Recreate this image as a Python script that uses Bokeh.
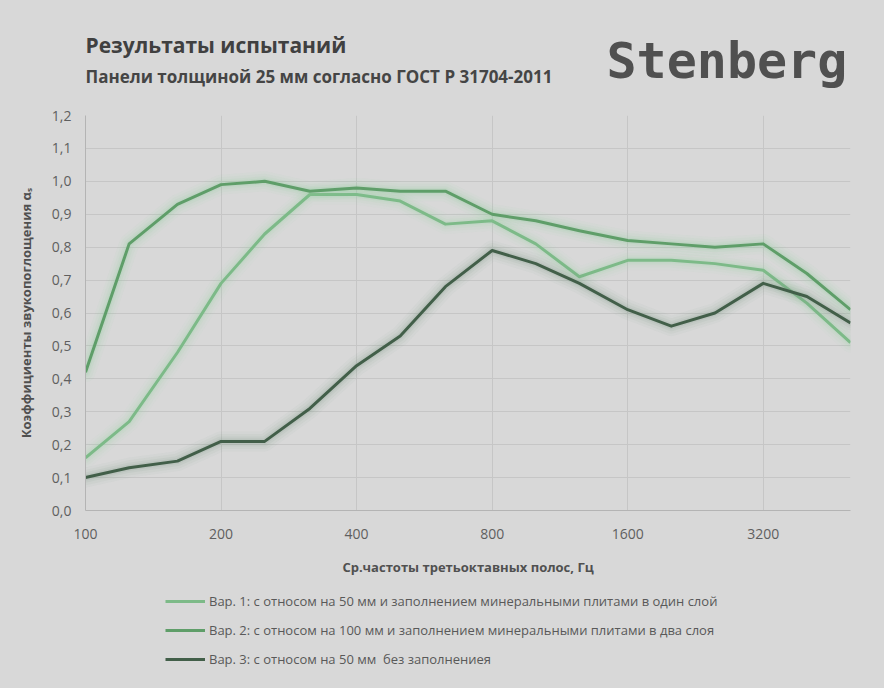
from bokeh.plotting import figure
from bokeh.layouts import column
from bokeh.models import (FixedTicker, Legend, LegendItem, Label, Range1d,
                          ColumnDataSource)
from bokeh.embed import file_html
from bokeh.resources import INLINE

# Third-octave band centre frequencies, Hz
freqs = [100, 125, 160, 200, 250, 315, 400, 500, 630, 800, 1000, 1250,
         1600, 2000, 2500, 3200, 4000, 5000]

# Sound absorption coefficients alpha_s for the three mounting variants
var1 = [0.16, 0.27, 0.48, 0.69, 0.84, 0.96, 0.96, 0.94, 0.87, 0.88, 0.81,
        0.71, 0.76, 0.76, 0.75, 0.73, 0.63, 0.51]
var2 = [0.42, 0.81, 0.93, 0.99, 1.00, 0.97, 0.98, 0.97, 0.97, 0.90, 0.88,
        0.85, 0.82, 0.81, 0.80, 0.81, 0.72, 0.61]
var3 = [0.10, 0.13, 0.15, 0.21, 0.21, 0.31, 0.44, 0.53, 0.68, 0.79, 0.75,
        0.69, 0.61, 0.56, 0.60, 0.69, 0.65, 0.57]

names = [
    "Вар. 1: с относом на 50 мм и заполнением минеральными плитами в один слой",
    "Вар. 2: с относом на 100 мм и заполнением минеральными плитами в два слоя",
    "Вар. 3: с относом на 50 мм  без заполнениея",
]
colors = ["#7dba88", "#5f9e69", "#425f49"]
glow_colors = ["#9fd8a8", "#8fd09a", "#7f9a85"]

x_ticks = [100, 200, 400, 800, 1600, 3200]
y_ticks = [0.0, 0.1, 0.2, 0.3, 0.4, 0.5, 0.6, 0.7, 0.8, 0.9, 1.0, 1.1, 1.2]

BG = "#d8d8d8"
FONT = "Open Sans"
W = 884


def strip(height):
    """Axis-free band used for the heading and the legend."""
    f = figure(width=W, height=height, x_range=Range1d(0, 1),
               y_range=Range1d(0, 1), x_axis_type=None, y_axis_type=None,
               min_border_left=85, min_border_right=30, min_border_top=0,
               min_border_bottom=0, background_fill_color=BG,
               border_fill_color=BG, outline_line_color=None,
               output_backend="svg", toolbar_location=None)
    f.xgrid.visible = False
    f.ygrid.visible = False
    return f


# ---- heading band: title, subtitle and brand mark
head = strip(105)
head.add_layout(Label(x=0, y=61, x_units="screen", y_units="screen",
                      text="Результаты испытаний", text_font=FONT,
                      text_font_style="bold", text_font_size="21px",
                      text_baseline="middle", text_color="#404040"))
head.add_layout(Label(x=0, y=29, x_units="screen", y_units="screen",
                      text="Панели  толщиной 25 мм согласно ГОСТ Р 31704-2011",
                      text_font=FONT, text_font_style="bold",
                      text_font_size="17px", text_baseline="middle",
                      text_color="#454545"))
head.add_layout(Label(x=521, y=45, x_units="screen", y_units="screen",
                      text="Stenberg", text_font="DejaVu Sans Mono",
                      text_font_style="bold", text_font_size="50px",
                      text_baseline="middle", text_color="#505050"))

# ---- main chart
p = figure(width=W, height=485, x_axis_type="log",
           x_range=Range1d(100, 5000), y_range=Range1d(0, 1.2),
           min_border_left=85, min_border_right=34, min_border_top=10,
           min_border_bottom=80,
           background_fill_color=BG, border_fill_color=BG,
           outline_line_color=None, output_backend="svg",
           toolbar_location=None)

p.xgrid.ticker = FixedTicker(ticks=x_ticks)
p.ygrid.ticker = FixedTicker(ticks=y_ticks)
p.xgrid.grid_line_color = "#c6c6c6"
p.ygrid.grid_line_color = "#c6c6c6"

p.xaxis.ticker = FixedTicker(ticks=x_ticks)
p.xaxis.major_label_overrides = {t: str(t) for t in x_ticks}
p.yaxis.ticker = FixedTicker(ticks=y_ticks)
p.yaxis.major_label_overrides = {t: f"{t:.1f}".replace(".", ",") for t in y_ticks}
for ax in (p.xaxis, p.yaxis):
    ax.major_tick_line_color = None
    ax.minor_tick_line_color = None
    ax.major_tick_out = 0
    ax.major_tick_in = 0
    ax.axis_line_color = "#b4b4b4"
    ax.major_label_text_font = FONT
    ax.major_label_text_font_size = "14px"
    ax.major_label_text_color = "#5f5f5f"
    ax.axis_label_text_font = FONT
    ax.axis_label_text_font_style = "bold"
    ax.axis_label_text_font_size = "13px"
    ax.axis_label_text_color = "#505050"
p.xaxis.major_label_standoff = 18
p.yaxis.major_label_standoff = 14
p.xaxis.axis_label = "Ср.частоты третьоктавных полос, Гц"
p.xaxis.axis_label_standoff = 16
p.yaxis.axis_label = "Коэффициенты звукопоглощения αₛ"
p.yaxis.axis_label_standoff = 14

series = []
for vals, col, gcol in zip([var1, var2, var3], colors, glow_colors):
    src = ColumnDataSource(dict(f=freqs, a=vals))
    series.append(src)
    # soft halo underneath each curve
    for w, al in ((20, 0.05), (15, 0.07), (10, 0.10), (6, 0.14)):
        p.line("f", "a", source=src, line_width=w, line_color=gcol,
               line_alpha=al, line_join="round", line_cap="round")
    p.line("f", "a", source=src, line_width=3, line_color=col,
           line_join="round")

# ---- legend band
leg = strip(98)
items = []
for name, col, src in zip(names, colors, series):
    # same series, outside this band's unit ranges: only the key is shown
    r = leg.line("f", "a", source=src, line_width=3, line_color=col)
    items.append(LegendItem(label=name, renderers=[r]))
legend = Legend(items=items, location=(80, 19), orientation="vertical",
                glyph_width=40, glyph_height=20, spacing=9,
                label_standoff=4, padding=0, margin=0,
                border_line_color=None, background_fill_alpha=0,
                label_text_font=FONT, label_text_font_size="13px",
                label_text_color="#595959")
leg.add_layout(legend, "center")

layout = column(head, p, leg, spacing=0,
                styles={"background-color": BG})
open("out.html", "w").write(file_html(layout, INLINE))
